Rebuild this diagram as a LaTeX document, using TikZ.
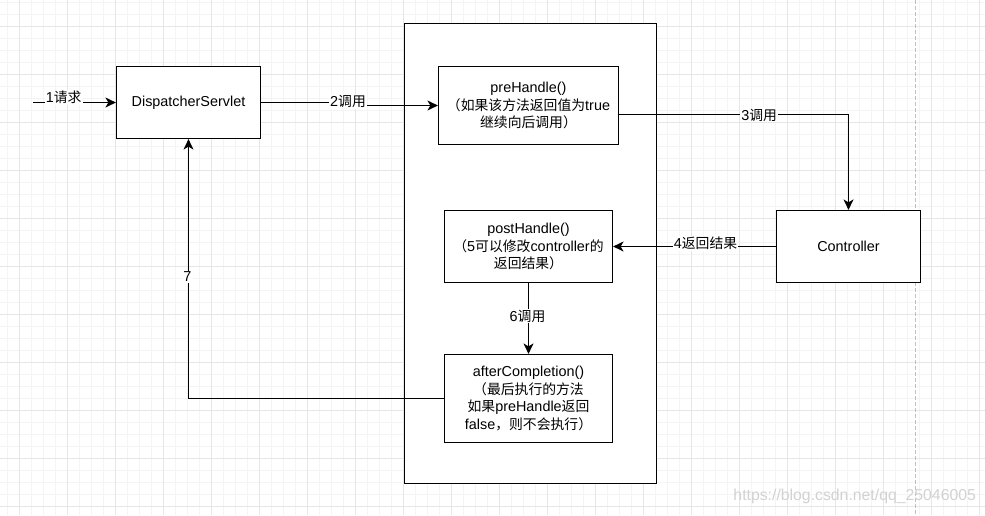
\documentclass[tikz,border=0pt]{standalone}
\usepackage{fontspec}
\setmainfont{Liberation Sans}
\newfontfamily\cjkfont[Scale=0.96]{Noto Sans CJK SC}
\newcommand\zhtxt[1]{{\cjkfont #1}}
\usetikzlibrary{arrows.meta}
\definecolor{gridminor}{HTML}{F4F4F4}
\definecolor{gridmajor}{HTML}{E6E6E6}
\begin{document}
\begin{tikzpicture}[x=1pt,y=-1pt,
  box/.style={draw=black, line width=1.2pt, fill=white, rectangle, inner sep=0pt, align=center, font=\fontsize{14.4}{17.4}\selectfont},
  conn/.style={draw=black, line width=1.2pt, -{Stealth[length=10.5pt,width=10pt,inset=3pt]}},
  lbl/.style={fill=white, inner sep=1pt, font=\fontsize{14.4}{17.4}\selectfont},
]
\useasboundingbox[fill=white] (0,0) rectangle (985,515);
% grid
\draw[gridminor, line width=1pt] foreach \x in {7.5,19.5,...,985} {(\x,0) -- (\x,515)};
\draw[gridminor, line width=1pt] foreach \y in {2.5,14.5,...,515} {(0,\y) -- (985,\y)};
\draw[gridmajor, line width=1pt] foreach \x in {19.5,67.5,...,985} {(\x,0) -- (\x,515)};
\draw[gridmajor, line width=1pt] foreach \y in {26.5,74.5,...,515} {(0,\y) -- (985,\y)};
\draw[gray!50, line width=1pt, dash pattern=on 4pt off 2pt] (915.5,0) -- (915.5,515);

% nodes
\node[box, minimum width=252pt, minimum height=460pt] (cont) at (530.5,253.5) {};
\node[box, minimum width=144pt, minimum height=72pt] (ds) at (188.5,102.5) {DispatcherServlet};
\node[box, minimum width=180pt, minimum height=78pt] (pre) at (528.5,105.5)
  {preHandle()\\\zhtxt{（如果该方法返回值为}true\\\zhtxt{继续向后调用）}};
\node[box, minimum width=168pt, minimum height=72pt] (post) at (528.5,246.5)
  {postHandle()\\\zhtxt{（}5\zhtxt{可以修改}controller\zhtxt{的}\\\zhtxt{返回结果）}};
\node[box, minimum width=144pt, minimum height=72pt] (ctrl) at (848.5,246.5) {Controller};
\node[box, minimum width=168pt, minimum height=88pt] (after) at (528.5,398.5)
  {afterCompletion()\\\zhtxt{（最后执行的方法}\\\zhtxt{如果}preHandle\zhtxt{返回}\\false\zhtxt{，则不会执行）}};

% connectors
\coordinate (in) at (33,102.5);
\draw[conn] (in) -- (ds.west);
\node[lbl] (l1) at (63.7,97.7) {1\zhtxt{请求}};

\draw[conn] (ds.east) -- ++(87pt,0) |- (pre.west);
\node[lbl] (l2) at (348,101.7) {2\zhtxt{调用}};

\draw[conn] ([yshift=-9pt]pre.east) -| (ctrl.north);
\node[lbl] (l3) at (759.2,115) {3\zhtxt{调用}};

\draw[conn] (ctrl.west) -- (post.east);
\node[lbl] (l4) at (705.5,243.3) {4\zhtxt{返回结果}};

\draw[conn] (post.south) -- (after.north);
\node[lbl] (l6) at (527.5,316) {6\zhtxt{调用}};

\draw[conn] (after.west) -| (ds.south);
\node[lbl] (l7) at (187.5,276.7) {7};

% watermark
\node[text=gray!35, inner sep=0pt, font=\fontsize{15.8}{18}\selectfont] (wm) at (854.7,496) {https://blog.csdn.net/qq\_25046005};
\end{tikzpicture}
\end{document}
